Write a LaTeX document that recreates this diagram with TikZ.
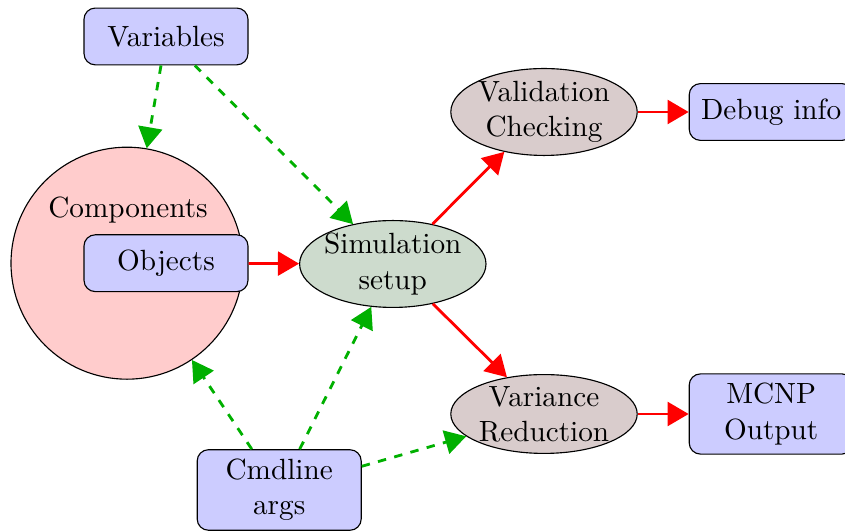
\documentclass[tikz,border=0pt]{standalone}
\usetikzlibrary{shapes.geometric,arrows.meta}

\definecolor{simfill}{RGB}{205,219,205}
\definecolor{stagefill}{RGB}{217,204,204}
\definecolor{dashgreen}{RGB}{0,176,0}

\tikzset{
  every node/.style={font=\fontsize{10.4}{12.5}\selectfont},
  block/.style={rectangle, rounded corners=4pt, draw=black, fill=blue!20,
    minimum width=2.05cm, minimum height=0.71cm, align=center},
  stage/.style={ellipse, draw=black, inner sep=0pt, minimum width=2.33cm, align=center},
  flow/.style={draw=red, line width=1pt, -{Triangle[length=7.5pt,width=8.5pt]}},
  feed/.style={draw=dashgreen, line width=1pt, dashed, -{Triangle[length=7.5pt,width=8.5pt]}}
}

\begin{document}
\begin{tikzpicture}
\useasboundingbox (0,0) rectangle (10.5625,-6.65);
% inputs
\node[block] (vars) at (2.075,-0.456) {Variables};
\node[circle, draw=black, fill=red!20, minimum size=2.9cm] (comp) at (1.5875,-3.29) {};
\node[] (complabel) at (1.6,-2.625) {Components};
\node[block] (objs) at (2.075,-3.29) {Objects};
\node[block] (cmd) at (3.49,-6.125) {Cmdline\\args};
% processing
\node[stage, fill=simfill, inner xsep=-1.3pt] (sim) at (4.91,-3.3) {Simulation\\setup};
\node[stage, fill=stagefill] (valid) at (6.8,-1.4) {Validation\\Checking};
\node[stage, fill=stagefill] (varred) at (6.8,-5.175) {Variance\\Reduction};
% outputs
\node[block] (debug) at (9.64,-1.4) {Debug info};
\node[block] (mcnp) at (9.64,-5.175) {MCNP\\Output};

\draw[feed] (vars) -- (comp);
\draw[feed] (vars) -- (sim);
\draw[feed] (cmd) -- (comp);
\draw[feed] (cmd) -- (sim);
\draw[feed] (cmd) -- (varred);
\draw[flow] (objs) -- (sim);
\draw[flow] (sim) -- (valid);
\draw[flow] (sim) -- (varred);
\draw[flow] (valid) -- (debug);
\draw[flow] (varred) -- (mcnp);
\end{tikzpicture}
\end{document}
